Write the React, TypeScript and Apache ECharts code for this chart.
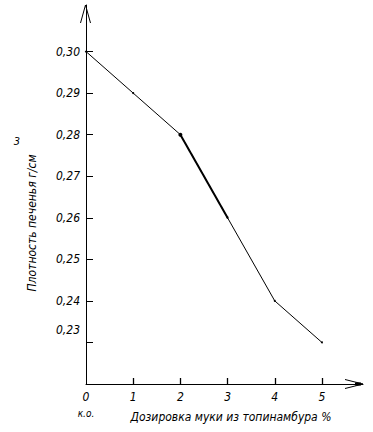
import React, { useEffect, useRef } from "react";
import * as echarts from "echarts";

const doses = [0, 1, 2, 3, 4, 5];
const density = [0.3, 0.29, 0.28, 0.26, 0.24, 0.23];
const xTicks = [0, 1, 2, 3, 4, 5];
const yTicks = [0.23, 0.24, 0.25, 0.26, 0.27, 0.28, 0.29, 0.3];
const yTitle = "Плотность печенья г/см";
const ySup = "3";
const xTitle = "Дозировка муки из топинамбура %";
const controlLabel = "к.о.";

const FONT = '"DejaVu Sans Condensed", "DejaVu Sans", sans-serif';

export default function App() {
  const ref = useRef<HTMLDivElement>(null);
  useEffect(() => {
    if (!ref.current) return;
    const chart = echarts.init(ref.current, null, { renderer: "svg" });
    const pts = doses.map((d, i) => [d, density[i]]);
    chart.setOption({
      animation: false,
      backgroundColor: "#fff",
      grid: { left: 86, top: 5, right: 10, bottom: 48 },
      xAxis: {
        type: "value",
        min: 0,
        max: 5.87,
        axisLine: { lineStyle: { color: "#000", width: 1 } },
        axisTick: {
          show: true,
          inside: true,
          length: 6,
          customValues: xTicks.slice(1),
          lineStyle: { color: "#000", width: 1.3 },
        },
        axisLabel: {
          customValues: xTicks,
          color: "#000",
          fontStyle: "italic",
          fontFamily: FONT,
          fontSize: 12,
          lineHeight: 16,
          margin: 5,
          formatter: (v: number) =>
            v === 0 ? "0\n{ko|" + controlLabel + "}" : String(v),
          rich: {
            ko: { fontSize: 10, fontStyle: "italic", fontFamily: FONT, lineHeight: 16, color: "#000" },
          },
        },
        splitLine: { show: false },
      },
      yAxis: {
        type: "value",
        min: 0.22,
        max: 0.3112,
        axisLine: { show: true, lineStyle: { color: "#000", width: 1 } },
        axisTick: {
          show: true,
          inside: true,
          length: 7,
          customValues: yTicks,
          lineStyle: { color: "#000", width: 1 },
        },
        axisLabel: {
          customValues: yTicks,
          color: "#000",
          fontStyle: "italic",
          fontFamily: FONT,
          fontSize: 12,
          margin: 6,
          formatter: (v: number) => {
            const s = v.toFixed(2).replace(".", ",");
            return Math.abs(v - 0.23) < 1e-6 ? "{up|" + s + "}" : s;
          },
          rich: {
            up: { fontStyle: "italic", fontFamily: FONT, fontSize: 12, color: "#000", padding: [0, 0, 24, 0] },
          },
        },
        splitLine: { show: false },
      },
      series: [
        {
          type: "line",
          data: pts,
          symbol: "circle",
          symbolSize: (_v: any, p: any) => (p.dataIndex === 2 ? 4 : 2),
          itemStyle: { color: "#000" },
          lineStyle: { color: "#000", width: 1 },
        },
        {
          type: "line",
          data: pts.slice(2, 4),
          symbol: "none",
          lineStyle: { color: "#000", width: 2 },
        },
      ],
      graphic: [
        {
          type: "polyline",
          shape: { points: [[80.5, 23], [85.5, 5], [90.5, 23]] },
          style: { stroke: "#000", fill: "none", lineWidth: 1 },
        },
        {
          type: "polyline",
          shape: { points: [[345, 379.5], [363, 384], [345, 388.5]] },
          style: { stroke: "#000", fill: "none", lineWidth: 1 },
        },
        {
          type: "rect",
          shape: { x: 355, y: 382.5, width: 6, height: 3 },
          style: { fill: "#000" },
        },
        {
          type: "text",
          x: 32,
          y: 223,
          rotation: Math.PI / 2,
          style: {
            text: yTitle,
            font: "italic 12px " + FONT,
            fill: "#000",
            align: "center",
            verticalAlign: "middle",
          },
        },
        {
          type: "text",
          x: 17,
          y: 141,
          style: {
            text: ySup,
            font: "italic 11px " + FONT,
            fill: "#000",
            align: "center",
            verticalAlign: "middle",
          },
        },
        {
          type: "text",
          x: 231,
          y: 417,
          style: {
            text: xTitle,
            font: "italic 12px " + FONT,
            fill: "#000",
            align: "center",
            verticalAlign: "middle",
          },
        },
      ],
    });
    return () => chart.dispose();
  }, []);
  return <div ref={ref} style={{ width: 373, height: 432, position: "absolute", left: 0, top: 0 }} />;
}
